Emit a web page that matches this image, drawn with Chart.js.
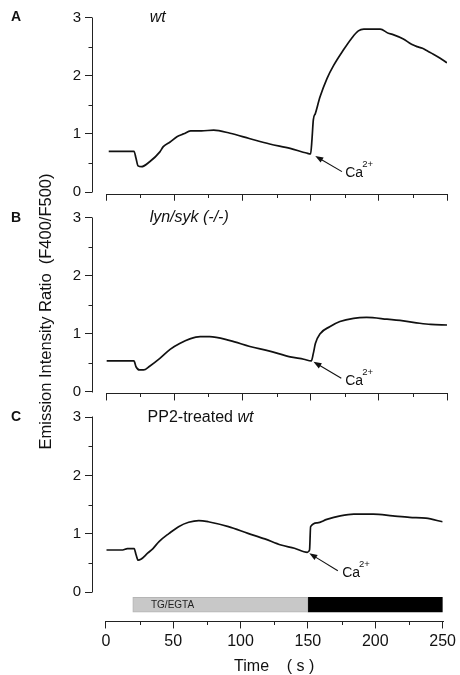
<!DOCTYPE html>
<html>
<head>
<meta charset="utf-8">
<script src="https://cdn.jsdelivr.net/npm/chart.js@4/dist/chart.umd.min.js"></script>
<style>
  html, body { margin: 0; padding: 0; background: #fff; }
  #wrap { position: relative; width: 460px; height: 675px; overflow: hidden; background: #fff; }
  #wrap canvas { position: absolute; left: 0; top: 0; }
</style>
</head>
<body>
<div id="wrap">
  <canvas id="cA" width="460" height="675"></canvas>
  <canvas id="cB" width="460" height="675"></canvas>
  <canvas id="cC" width="460" height="675"></canvas>
</div>
<script>
// ---------------- DATA ----------------
// Panel A: wt
const timeA  = [2,10,20.5,22,23.5,26,32,39.5,42,47,52,57,62,70,79,91,105,120,135,147,150,151,152,153.5,157,162,167,174,180,185,189,201,207,210,218,224,228,232,236,240,245,250];
const ratioA = [0.70,0.70,0.70,0.58,0.45,0.435,0.52,0.69,0.78,0.86,0.95,1.00,1.05,1.05,1.065,1.01,0.92,0.825,0.75,0.67,0.655,0.90,1.24,1.35,1.64,1.95,2.18,2.44,2.64,2.77,2.80,2.80,2.73,2.71,2.63,2.54,2.50,2.47,2.42,2.37,2.30,2.22];
// Panel B: lyn/syk (-/-)
const timeB  = [0.5,10,20.5,22,24.5,27.5,32,39.5,47,54,61.5,69,76,91,105.5,120,135,145,150.5,152,153.5,157,164,171.5,181.5,191,206,218,230,238,250];
const ratioB = [0.53,0.53,0.53,0.43,0.375,0.375,0.44,0.575,0.73,0.83,0.91,0.95,0.95,0.88,0.78,0.70,0.60,0.56,0.53,0.66,0.83,1.00,1.12,1.21,1.265,1.28,1.25,1.22,1.18,1.16,1.15];
// Panel C: PP2-treated wt
const timeC  = [0.5,12.5,16,21,22.5,24,26,31,35,39.5,47,54,61.5,69,76,91,105.5,118,130,140,149.5,151.2,152,157,164,174,184,198.5,213,225.5,237.5,250];
const ratioC = [0.725,0.725,0.75,0.75,0.64,0.55,0.565,0.67,0.75,0.87,1.01,1.125,1.20,1.23,1.21,1.125,1.01,0.915,0.81,0.755,0.685,0.725,1.125,1.19,1.25,1.31,1.34,1.34,1.31,1.285,1.27,1.21];

// Axis ticks
const xTicks      = [0,50,100,150,200,250];
const xMinorTicks = [25,75,125,175,225];
const yTicks      = [0,1,2,3];
const yMinorTicks = [0.5,1.5,2.5];

// Treatment bar (s)
const treatLabels = ['TG/EGTA', ''];
const treatStart  = [20, 150];
const treatEnd    = [150, 250];

// Text
const panelLetters = ['A','B','C'];
const yTitle = 'Emission Intensity Ratio  (F400/F500)';
const xTitle = 'Time    ( s )';
const caLabel = 'Ca';
const caSup = '2+';

// ---------------- LAYOUT / STYLE ----------------
const FONT = '"Liberation Sans", Arial, Helvetica, sans-serif';
const INK = '#111';
const AXIS = '#222';
const PLOT_LEFT = 92, PLOT_RIGHT = 447, X_ZERO_PX = 106;
const X_MAX = 250;
const X_MIN = -(X_ZERO_PX - PLOT_LEFT) * X_MAX / (PLOT_RIGHT - X_ZERO_PX);
const BAR_LEVEL = -0.214;

Chart.defaults.font.family = FONT;
Chart.defaults.color = INK;

const decoPlugin = {
  id: 'deco',
  afterDraw(chart, args, o) {
    const {ctx, chartArea} = chart;
    const x = chart.scales.x, y = chart.scales.y;
    ctx.save();
    ctx.strokeStyle = AXIS;
    ctx.lineWidth = 1;
    // y axis line
    const lx = Math.round(chartArea.left) + 0.5;
    ctx.beginPath();
    ctx.moveTo(lx, Math.round(y.getPixelForValue(yTicks[0])) + 0.5);
    ctx.lineTo(lx, Math.round(y.getPixelForValue(yTicks[yTicks.length-1])) - 0.5);
    ctx.stroke();
    // y minor ticks
    yMinorTicks.forEach(v => {
      const py = Math.round(y.getPixelForValue(v)) + 0.5;
      ctx.beginPath(); ctx.moveTo(lx - 4, py); ctx.lineTo(lx, py); ctx.stroke();
    });
    // x axis line
    const by = Math.round(chartArea.bottom) + 0.5;
    ctx.beginPath();
    ctx.moveTo(Math.round(x.getPixelForValue(xTicks[0])), by);
    ctx.lineTo(Math.round(x.getPixelForValue(xTicks[xTicks.length-1])) + 1, by);
    ctx.stroke();
    xMinorTicks.forEach(v => {
      const px = Math.round(x.getPixelForValue(v)) + 0.5;
      ctx.beginPath(); ctx.moveTo(px, by); ctx.lineTo(px, by + 3.5); ctx.stroke();
    });

    // panel letter
    ctx.fillStyle = INK;
    ctx.font = 'bold 14px ' + FONT;
    ctx.textBaseline = 'middle';
    ctx.textAlign = 'left';
    ctx.fillText(o.letter, 11, y.getPixelForValue(3));

    // panel title
    let tx = x.getPixelForValue(o.titleX);
    const ty = y.getPixelForValue(3);
    o.title.forEach(part => {
      ctx.font = (part.italic ? 'italic ' : '') + '16px ' + FONT;
      ctx.fillText(part.text, tx, ty);
      tx += ctx.measureText(part.text).width;
    });

    // Ca2+ arrow
    const a = o.arrow;
    const x0 = x.getPixelForValue(a.x0), y0 = y.getPixelForValue(a.y0);
    const x1 = x.getPixelForValue(a.x1), y1 = y.getPixelForValue(a.y1);
    const ang = Math.atan2(y1 - y0, x1 - x0);
    const hl = 8, hw = 3;
    ctx.strokeStyle = INK;
    ctx.lineWidth = 1.1;
    ctx.beginPath();
    ctx.moveTo(x0, y0);
    ctx.lineTo(x1 - Math.cos(ang) * hl * 0.8, y1 - Math.sin(ang) * hl * 0.8);
    ctx.stroke();
    ctx.beginPath();
    ctx.moveTo(x1, y1);
    ctx.lineTo(x1 - Math.cos(ang) * hl - Math.sin(ang) * hw, y1 - Math.sin(ang) * hl + Math.cos(ang) * hw);
    ctx.lineTo(x1 - Math.cos(ang) * hl + Math.sin(ang) * hw, y1 - Math.sin(ang) * hl - Math.cos(ang) * hw);
    ctx.closePath();
    ctx.fill();
    const cx = x.getPixelForValue(a.tx), cy = y.getPixelForValue(a.ty);
    ctx.textBaseline = 'alphabetic';
    ctx.font = '14px ' + FONT;
    ctx.fillText(caLabel, cx, cy);
    const cw = ctx.measureText(caLabel).width;
    ctx.font = '9.5px ' + FONT;
    ctx.fillText(caSup, cx + cw - 1, cy - 10);

    if (o.barLabel) {
      ctx.font = '10px ' + FONT;
      ctx.textBaseline = 'middle';
      ctx.fillStyle = '#222';
      ctx.fillText(treatLabels[0], x.getPixelForValue(33.5), y.getPixelForValue(BAR_LEVEL) + 0.5);
    }
    if (o.xTitle) {
      ctx.font = '16px ' + FONT;
      ctx.textAlign = 'center';
      ctx.textBaseline = 'middle';
      ctx.fillStyle = INK;
      ctx.fillText(xTitle, (x.getPixelForValue(0) + x.getPixelForValue(250)) / 2, 667);
    }
    if (o.yTitle) {
      ctx.save();
      ctx.translate(46, 311.5);
      ctx.rotate(-Math.PI / 2);
      ctx.font = '16.5px ' + FONT;
      ctx.textAlign = 'center';
      ctx.textBaseline = 'middle';
      ctx.fillStyle = INK;
      ctx.fillText(yTitle, 0, 0);
      ctx.restore();
    }
    ctx.restore();
  }
};

function makePanel(canvasId, times, ratios, p) {
  const unit = (p.zeroPx - p.topPx) / 3;
  const bottomPx = p.zeroPx - p.yMin * unit;
  const xH = p.showXLabels ? 40 : 10;
  const datasets = [{
    type: 'line',
    data: times.map((t, i) => ({x: t, y: ratios[i]})),
    borderColor: INK,
    borderWidth: 1.7,
    pointRadius: 0,
    fill: false,
    tension: 0.3,
    cubicInterpolationMode: 'monotone'
  }];
  if (p.showBar) {
    treatStart.forEach((s, i) => {
      datasets.push({
        type: 'bar',
        indexAxis: 'y',
        data: [{x: [s, treatEnd[i]], y: BAR_LEVEL}],
        backgroundColor: i === 0 ? '#c8c8c8' : '#000',
        borderColor: i === 0 ? '#b5b5b5' : '#000',
        borderWidth: 1,
        borderSkipped: false,
        barThickness: 15,
        grouped: false
      });
    });
  }
  return new Chart(document.getElementById(canvasId), {
    type: 'line',
    data: { datasets },
    options: {
      responsive: false,
      animation: false,
      events: [],
      layout: { padding: { top: p.topPx, left: 0, right: 460 - PLOT_RIGHT, bottom: 675 - bottomPx - xH } },
      plugins: {
        legend: { display: false },
        tooltip: { enabled: false },
        deco: p.deco
      },
      scales: {
        x: {
          type: 'linear',
          min: X_MIN, max: X_MAX,
          offset: false,
          afterBuildTicks: s => { s.ticks = xTicks.map(v => ({value: v})); },
          afterFit: s => { s.height = xH; },
          border: { display: false },
          grid: { drawOnChartArea: false, drawTicks: true, tickLength: 7, color: AXIS, offset: false },
          ticks: { display: p.showXLabels, padding: 4, color: INK, font: { size: 16 }, maxRotation: 0, autoSkip: false }
        },
        y: {
          type: 'linear',
          min: p.yMin, max: 3,
          offset: false,
          afterBuildTicks: s => { s.ticks = yTicks.map(v => ({value: v})); },
          afterFit: s => { s.width = PLOT_LEFT; },
          border: { display: false },
          grid: { drawOnChartArea: false, drawTicks: true, tickLength: 7, color: AXIS, offset: false },
          ticks: { padding: 4, color: INK, font: { size: 15 } }
        }
      }
    },
    plugins: [decoPlugin]
  });
}

makePanel('cA', timeA, ratioA, {
  topPx: 17.5, zeroPx: 192, yMin: -0.03, showXLabels: false, showBar: false,
  deco: { letter: panelLetters[0], titleX: 32, title: [{text: 'wt', italic: true}],
          arrow: {x0: 173, y0: 0.35, x1: 153.4, y1: 0.62, tx: 175.4, ty: 0.26}, yTitle: true }
});
makePanel('cB', timeB, ratioB, {
  topPx: 217.7, zeroPx: 391.7, yMin: -0.03, showXLabels: false, showBar: false,
  deco: { letter: panelLetters[1], titleX: 32, title: [{text: 'lyn/syk (-/-)', italic: true}],
          arrow: {x0: 172.5, y0: 0.231, x1: 152.1, y1: 0.517, tx: 175.4, ty: 0.116} }
});
makePanel('cC', timeC, ratioC, {
  topPx: 417.3, zeroPx: 592.3, yMin: -0.5, showXLabels: true, showBar: true,
  deco: { letter: panelLetters[2], titleX: 31, title: [{text: 'PP2-treated ', italic: false}, {text: 'wt', italic: true}],
          arrow: {x0: 172.2, y0: 0.37, x1: 151, y1: 0.669, tx: 175.4, ty: 0.267}, barLabel: true, xTitle: true }
});
</script>
</body>
</html>
